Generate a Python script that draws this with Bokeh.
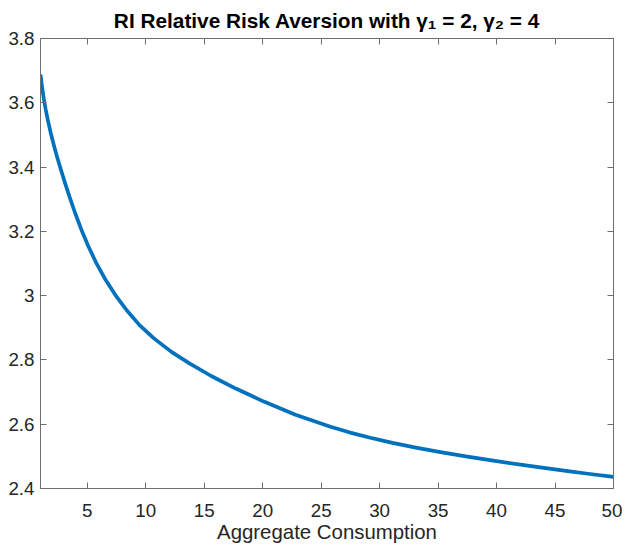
from bokeh.plotting import figure
from bokeh.models import LinearAxis, FixedTicker, CustomJSTickFormatter, Range1d
from bokeh.embed import file_html
from bokeh.resources import INLINE

# Data
consumption = [1, 1.13, 1.28, 1.45, 1.65, 1.87, 2.12, 2.4, 2.72, 3.08, 3.49,
               3.96, 4.48, 5.08, 5.75, 6.52, 7.39, 8.37, 9.49, 10.7, 12.2,
               13.7, 15.6, 17.7, 20.1, 22.8, 25.8, 27.4, 29.2, 31.1, 33.1,
               35.2, 37.5, 40, 42.5, 44.2, 46.1, 48, 50]
rra = [3.688, 3.651, 3.6135, 3.578, 3.542, 3.507, 3.471, 3.434, 3.3945,
       3.3524, 3.3065, 3.2571, 3.2067, 3.1545, 3.1029, 3.0521, 3.0025,
       2.9545, 2.9075, 2.867, 2.825, 2.790, 2.750, 2.711, 2.6705, 2.6297,
       2.5922, 2.5747, 2.558, 2.542, 2.527, 2.513, 2.499, 2.485, 2.472,
       2.4635, 2.454, 2.445, 2.436]

x_ticks = [5, 10, 15, 20, 25, 30, 35, 40, 45, 50]
y_ticks = [2.4, 2.6, 2.8, 3.0, 3.2, 3.4, 3.6, 3.8]

title_text = "RI Relative Risk Aversion with \u03b3\u2081 = 2, \u03b3\u2082 = 4"
x_label = "Aggregate Consumption"

FONT = "Liberation Sans"
AX_COLOR = "#6e6e6e"
TXT_COLOR = "#262626"

p = figure(width=622, height=545, output_backend="svg", toolbar_location=None,
           x_range=Range1d(1, 50), y_range=Range1d(2.4, 3.8),
           min_border_left=40, min_border_right=9, min_border_top=38,
           min_border_bottom=54, x_axis_label=x_label)

p.title.text = title_text
p.title.text_font = FONT
p.title.text_font_size = "20.8px"
p.title.text_font_style = "bold"
p.title.text_color = "#000000"
p.title.align = "center"
p.title.standoff = 13

p.grid.visible = False
p.outline_line_color = AX_COLOR
p.outline_line_width = 1

fmt = CustomJSTickFormatter(code="return String(Math.round(tick*10)/10);")

def style_axis(ax, labels=True):
    ax.axis_line_color = AX_COLOR
    ax.major_tick_line_color = AX_COLOR
    ax.major_tick_in = 6
    ax.major_tick_out = 0
    ax.minor_tick_line_color = None
    ax.major_label_text_font = FONT
    ax.major_label_text_font_size = "18.8px"
    ax.major_label_text_color = TXT_COLOR
    ax.axis_label_text_font = FONT
    ax.axis_label_text_font_size = "20.4px"
    ax.axis_label_text_font_style = "normal"
    ax.axis_label_text_color = TXT_COLOR
    if not labels:
        ax.major_label_text_alpha = 0
        ax.major_label_text_font_size = "0px"
        ax.major_label_standoff = 0

xa = p.xaxis[0]
xa.ticker = FixedTicker(ticks=x_ticks)
xa.formatter = fmt
xa.major_label_standoff = 15
xa.axis_label_standoff = 1
style_axis(xa)

ya = p.yaxis[0]
ya.ticker = FixedTicker(ticks=y_ticks)
ya.formatter = fmt
ya.major_label_standoff = 6
style_axis(ya)

top = LinearAxis(ticker=FixedTicker(ticks=x_ticks))
style_axis(top, labels=False)
p.add_layout(top, "above")
right = LinearAxis(ticker=FixedTicker(ticks=y_ticks))
style_axis(right, labels=False)
p.add_layout(right, "right")

p.line(consumption, rra, line_color="#0072BD", line_width=3.7,
       line_join="round")

open("out.html", "w").write(file_html(p, INLINE))
